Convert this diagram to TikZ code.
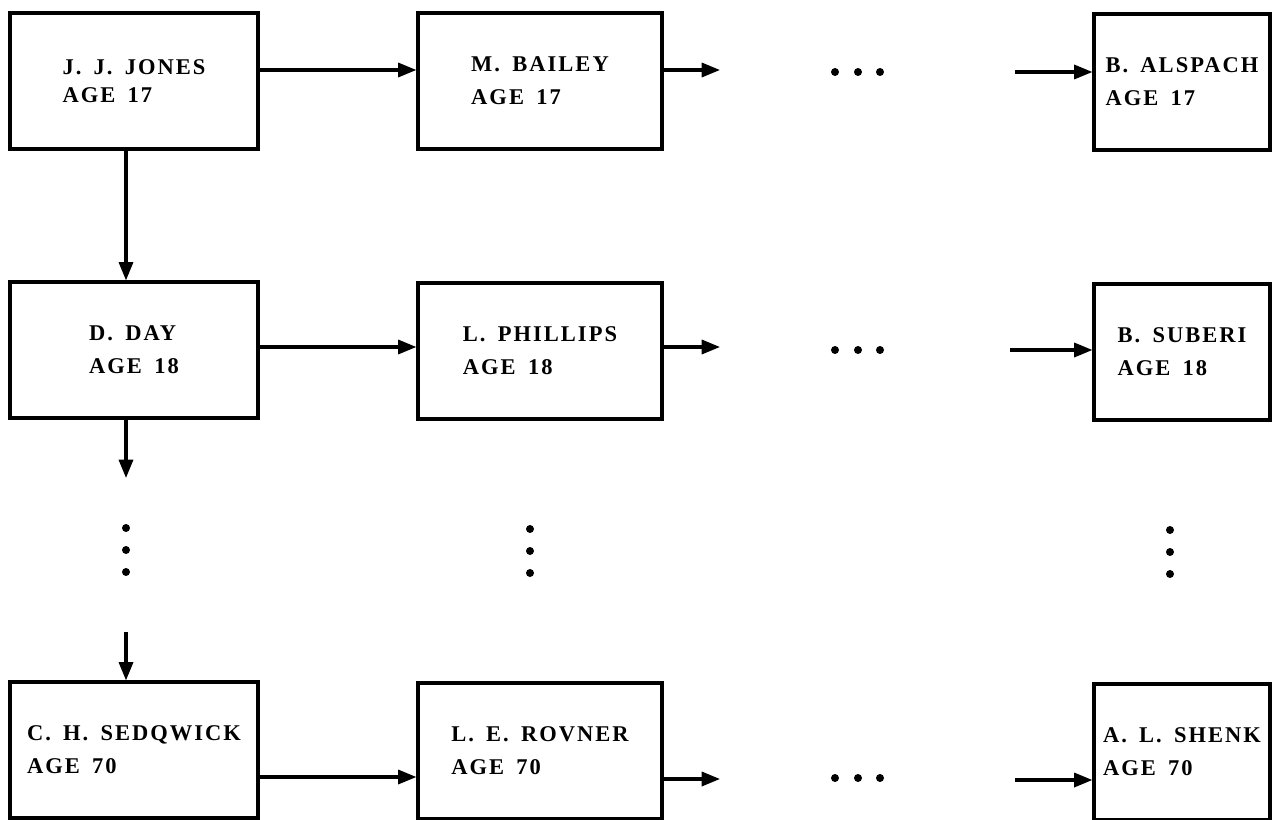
\documentclass[tikz,border=0pt]{standalone}
\usepackage{fontspec}
\setmainfont{Liberation Serif}[LetterSpace=9,WordSpace=1.6]
\usetikzlibrary{arrows.meta}

\begin{document}
\begin{tikzpicture}[
			x=0.025cm,y=-0.025cm,
			every node/.style={font=\fontsize{16pt}{23.5pt}\selectfont\bfseries,align=left},
			box/.style={draw,line width=2.2pt,minimum height=3.4cm,inner sep=0pt},
			arr/.style={-{Triangle[length=13pt,width=10pt]},line width=2.2pt},
			dot/.style={circle,fill,inner sep=0pt,minimum size=0.2cm}
			]
			\useasboundingbox (0,0) rectangle (1282,820);
			% first column
			\node[box,minimum width=6.2cm] (jones) at (134,81) {J.\ J.\ JONES\\[-0.2em]AGE 17};
			\node[box,minimum width=6.2cm] (day) at (134,350) {D. DAY\\AGE 18};
			\node[box,minimum width=6.2cm] (sedqwick) at (134,750) {C. H. SEDQWICK\\AGE 70};
			% second column
			\node[box,minimum width=6.1cm] (bailey) at (540,81) {M. BAILEY\\AGE 17};
			\node[box,minimum width=6.1cm] (phillips) at (540,351) {L. PHILLIPS\\AGE 18};
			\node[box,minimum width=6.1cm] (rovner) at (540,751) {L. E. ROVNER\\AGE 70};
			% last column
			\node[box,minimum width=4.4cm] (alspach) at (1182,82) {B. ALSPACH\\AGE 17};
			\node[box,minimum width=4.4cm] (suberi) at (1182,352) {B. SUBERI\\AGE 18};
			\node[box,minimum width=4.4cm] (shenk) at (1182,752) {A. L. SHENK\\AGE 70};
			% rows
			\coordinate (r1) at (0,70);
			\coordinate (r2) at (0,347);
			\coordinate (r3) at (0,777);
			\draw[arr] (jones.east |- r1) -- (bailey.west |- r1);
			\draw[arr] (day.east |- r2) -- (phillips.west |- r2);
			\draw[arr] (sedqwick.east |- r3) -- (rovner.west |- r3);
			\coordinate (s1) at (720,70);
			\coordinate (s2) at (720,347);
			\coordinate (s3) at (720,779);
			\draw[arr] (bailey.east |- s1) -- (s1);
			\draw[arr] (phillips.east |- s2) -- (s2);
			\draw[arr] (rovner.east |- s3) -- (s3);
			\coordinate (t1) at (1015,72);
			\coordinate (t2) at (1010,350);
			\coordinate (t3) at (1015,780);
			\draw[arr] (t1) -- (alspach.west |- t1);
			\draw[arr] (t2) -- (suberi.west |- t2);
			\draw[arr] (t3) -- (shenk.west |- t3);
			\foreach \x [count=\i] in {835,858,880} {
				\node[dot] (ha\i) at (\x,72) {};
				\node[dot] (hb\i) at (\x,350) {};
				\node[dot] (hc\i) at (\x,778) {};
			}
			% first column going down
			\coordinate (c1) at (126,0);
			\draw[arr] (c1 |- jones.south) -- (c1 |- day.north);
			\coordinate (d1) at (126,478);
			\coordinate (d2) at (126,632);
			\draw[arr] (c1 |- day.south) -- (d1);
			\draw[arr] (d2) -- (c1 |- sedqwick.north);
			\foreach \y [count=\i] in {528,550,572} {
				\node[dot] (va\i) at (126,\y) {};
				\node[dot] (vb\i) at (530,\y+1) {};
				\node[dot] (vc\i) at (1170,\y+2) {};
			}
		\end{tikzpicture}
\end{document}
